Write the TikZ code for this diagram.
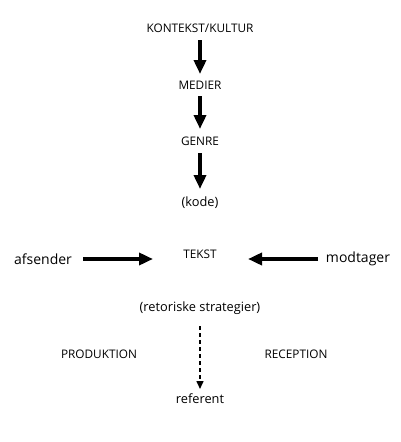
\documentclass[tikz,border=0pt]{standalone}
\usepackage{fontspec}
\setmainfont{Open Sans}
\usetikzlibrary{arrows.meta}
\begin{document}
\begin{tikzpicture}[x=1pt,y=-1pt,
  lbl/.style={inner sep=1pt,font=\fontsize{11.8}{13}\selectfont},
  mid/.style={inner sep=1pt,font=\fontsize{12.8}{14}\selectfont},
  big/.style={inner sep=1pt,font=\fontsize{14}{16}\selectfont},
  thick arrow/.style={line width=3.5pt,-{Triangle[width=12pt,length=14pt]}},
  dash arrow/.style={line width=1.5pt,dash pattern=on 4pt off 3pt,-{Triangle[width=7pt,length=8pt]}}]
\useasboundingbox (0,0) rectangle (400,442);
\node[lbl] (kon) at (200,28) {KONTEKST/KULTUR};
\node[lbl] (med) at (200,85) {MEDIER};
\node[lbl] (gen) at (200,141) {GENRE};
\node[mid] (kod) at (200,203) {(kode)};
\node[lbl] (tek) at (200,254) {TEKST};
\node[big] (afs) at (43,259) {afsender};
\node[big] (mod) at (358,259) {modtager};
\node[mid] (ret) at (200,308) {(retoriske strategier)};
\node[lbl] (pro) at (99,354) {PRODUKTION};
\node[lbl] (rec) at (296,354) {RECEPTION};
\node[mid] (ref) at (200,399) {referent};
\draw[thick arrow] (200,40) -- (200,74);
\draw[thick arrow] (200,96) -- (200,129);
\draw[thick arrow] (200,153) -- (200,189);
\draw[thick arrow] (83,259) -- (153,259);
\draw[thick arrow] (318,259) -- (248,259);
\draw[dash arrow] (200,326) -- (200,389);
\end{tikzpicture}
\end{document}
